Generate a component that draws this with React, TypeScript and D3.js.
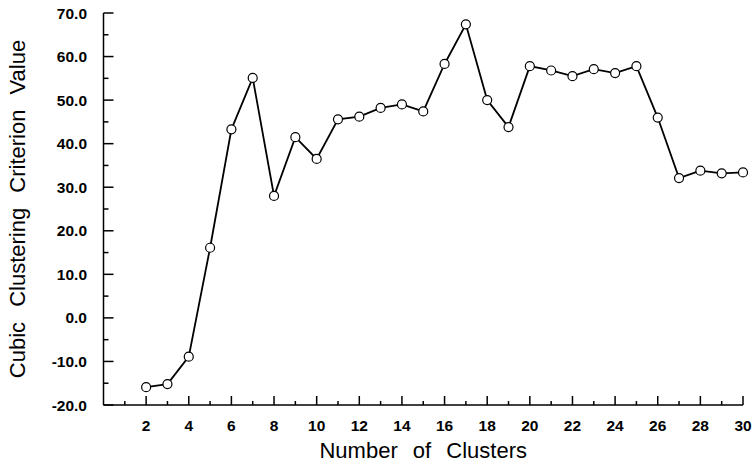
import React from 'react';
import * as d3 from 'd3';

const clusters = [2, 3, 4, 5, 6, 7, 8, 9, 10, 11, 12, 13, 14, 15, 16, 17, 18, 19, 20, 21, 22, 23, 24, 25, 26, 27, 28, 29, 30];
const ccc = [-15.9, -15.2, -8.9, 16.1, 43.3, 55.1, 28.0, 41.5, 36.5, 45.6, 46.2, 48.2, 49.0, 47.4, 58.3, 67.4, 50.0, 43.8, 57.8, 56.8, 55.5, 57.1, 56.2, 57.8, 46.0, 32.1, 33.8, 33.2, 33.4];
const yMajor = [-20, -10, 0, 10, 20, 30, 40, 50, 60, 70];
const yMinor = [-15, -5, 5, 15, 25, 35, 45, 55, 65];
const xMajor = [2, 4, 6, 8, 10, 12, 14, 16, 18, 20, 22, 24, 26, 28, 30];
const xMinor = [1, 3, 5, 7, 9, 11, 13, 15, 17, 19, 21, 23, 25, 27, 29];

const width = 756;
const height = 467;
const marginLeft = 103.5;
const marginRight = 13;
const marginTop = 13;
const marginBottom = 62;

const font = '"Liberation Sans", Arial, sans-serif';

const CCCPlot = () => {
    const x = d3.scaleLinear().domain([0, 30]).range([marginLeft, width - marginRight]);
    const y = d3.scaleLinear().domain([-20, 70]).range([height - marginBottom, marginTop]);
    const line = d3.line<number>().x((d, i) => x(clusters[i])).y(d => y(d));
    const x0 = x(0);
    const y0 = y(-20);
    return (
        <svg width={width} height={height} style={{ position: 'absolute', left: 0, top: 0, display: 'block' }}>
            <g stroke="black" strokeWidth="1.5" fill="none">
                <line x1={x0} x2={x0} y1={y(70)} y2={y0} />
                <line x1={x0} x2={x(30)} y1={y0} y2={y0} />
                {yMajor.map(v => <line key={'ym' + v} x1={x0} x2={x0 + 10} y1={y(v)} y2={y(v)} />)}
                {yMinor.map(v => <line key={'yn' + v} x1={x0} x2={x0 + 5} y1={y(v)} y2={y(v)} />)}
                {xMajor.map(v => <line key={'xm' + v} x1={x(v)} x2={x(v)} y1={y0} y2={y0 - 9} />)}
                {xMinor.map(v => <line key={'xn' + v} x1={x(v)} x2={x(v)} y1={y0} y2={y0 - 4} />)}
            </g>
            <g fontFamily={font} fontWeight="bold" fontSize="15.5" fill="black">
                {yMajor.map(v => (
                    <text key={'yl' + v} x={87} y={y(v)} dy="0.36em" textAnchor="end">{v.toFixed(1)}</text>
                ))}
                {xMajor.map(v => (
                    <text key={'xl' + v} x={x(v)} y={431} textAnchor="middle">{v}</text>
                ))}
            </g>
            <text x={(x(0) + x(30)) / 2} y={458} textAnchor="middle" fontFamily={font} fontSize="22" style={{ wordSpacing: '9px' }}>Number of Clusters</text>
            <text transform={`translate(25,${(y(70) + y0) / 2}) rotate(-90)`} textAnchor="middle" fontFamily={font} fontSize="22" style={{ wordSpacing: '9px' }}>Cubic Clustering Criterion Value</text>
            <path d={line(ccc) || ''} fill="none" stroke="black" strokeWidth="1.8" />
            <g fill="white" stroke="black" strokeWidth="1.2">
                {ccc.map((d, i) => <circle key={i} cx={x(clusters[i])} cy={y(d)} r="4.5" />)}
            </g>
        </svg>
    );
};

const App = () => <CCCPlot />;

export default App;
